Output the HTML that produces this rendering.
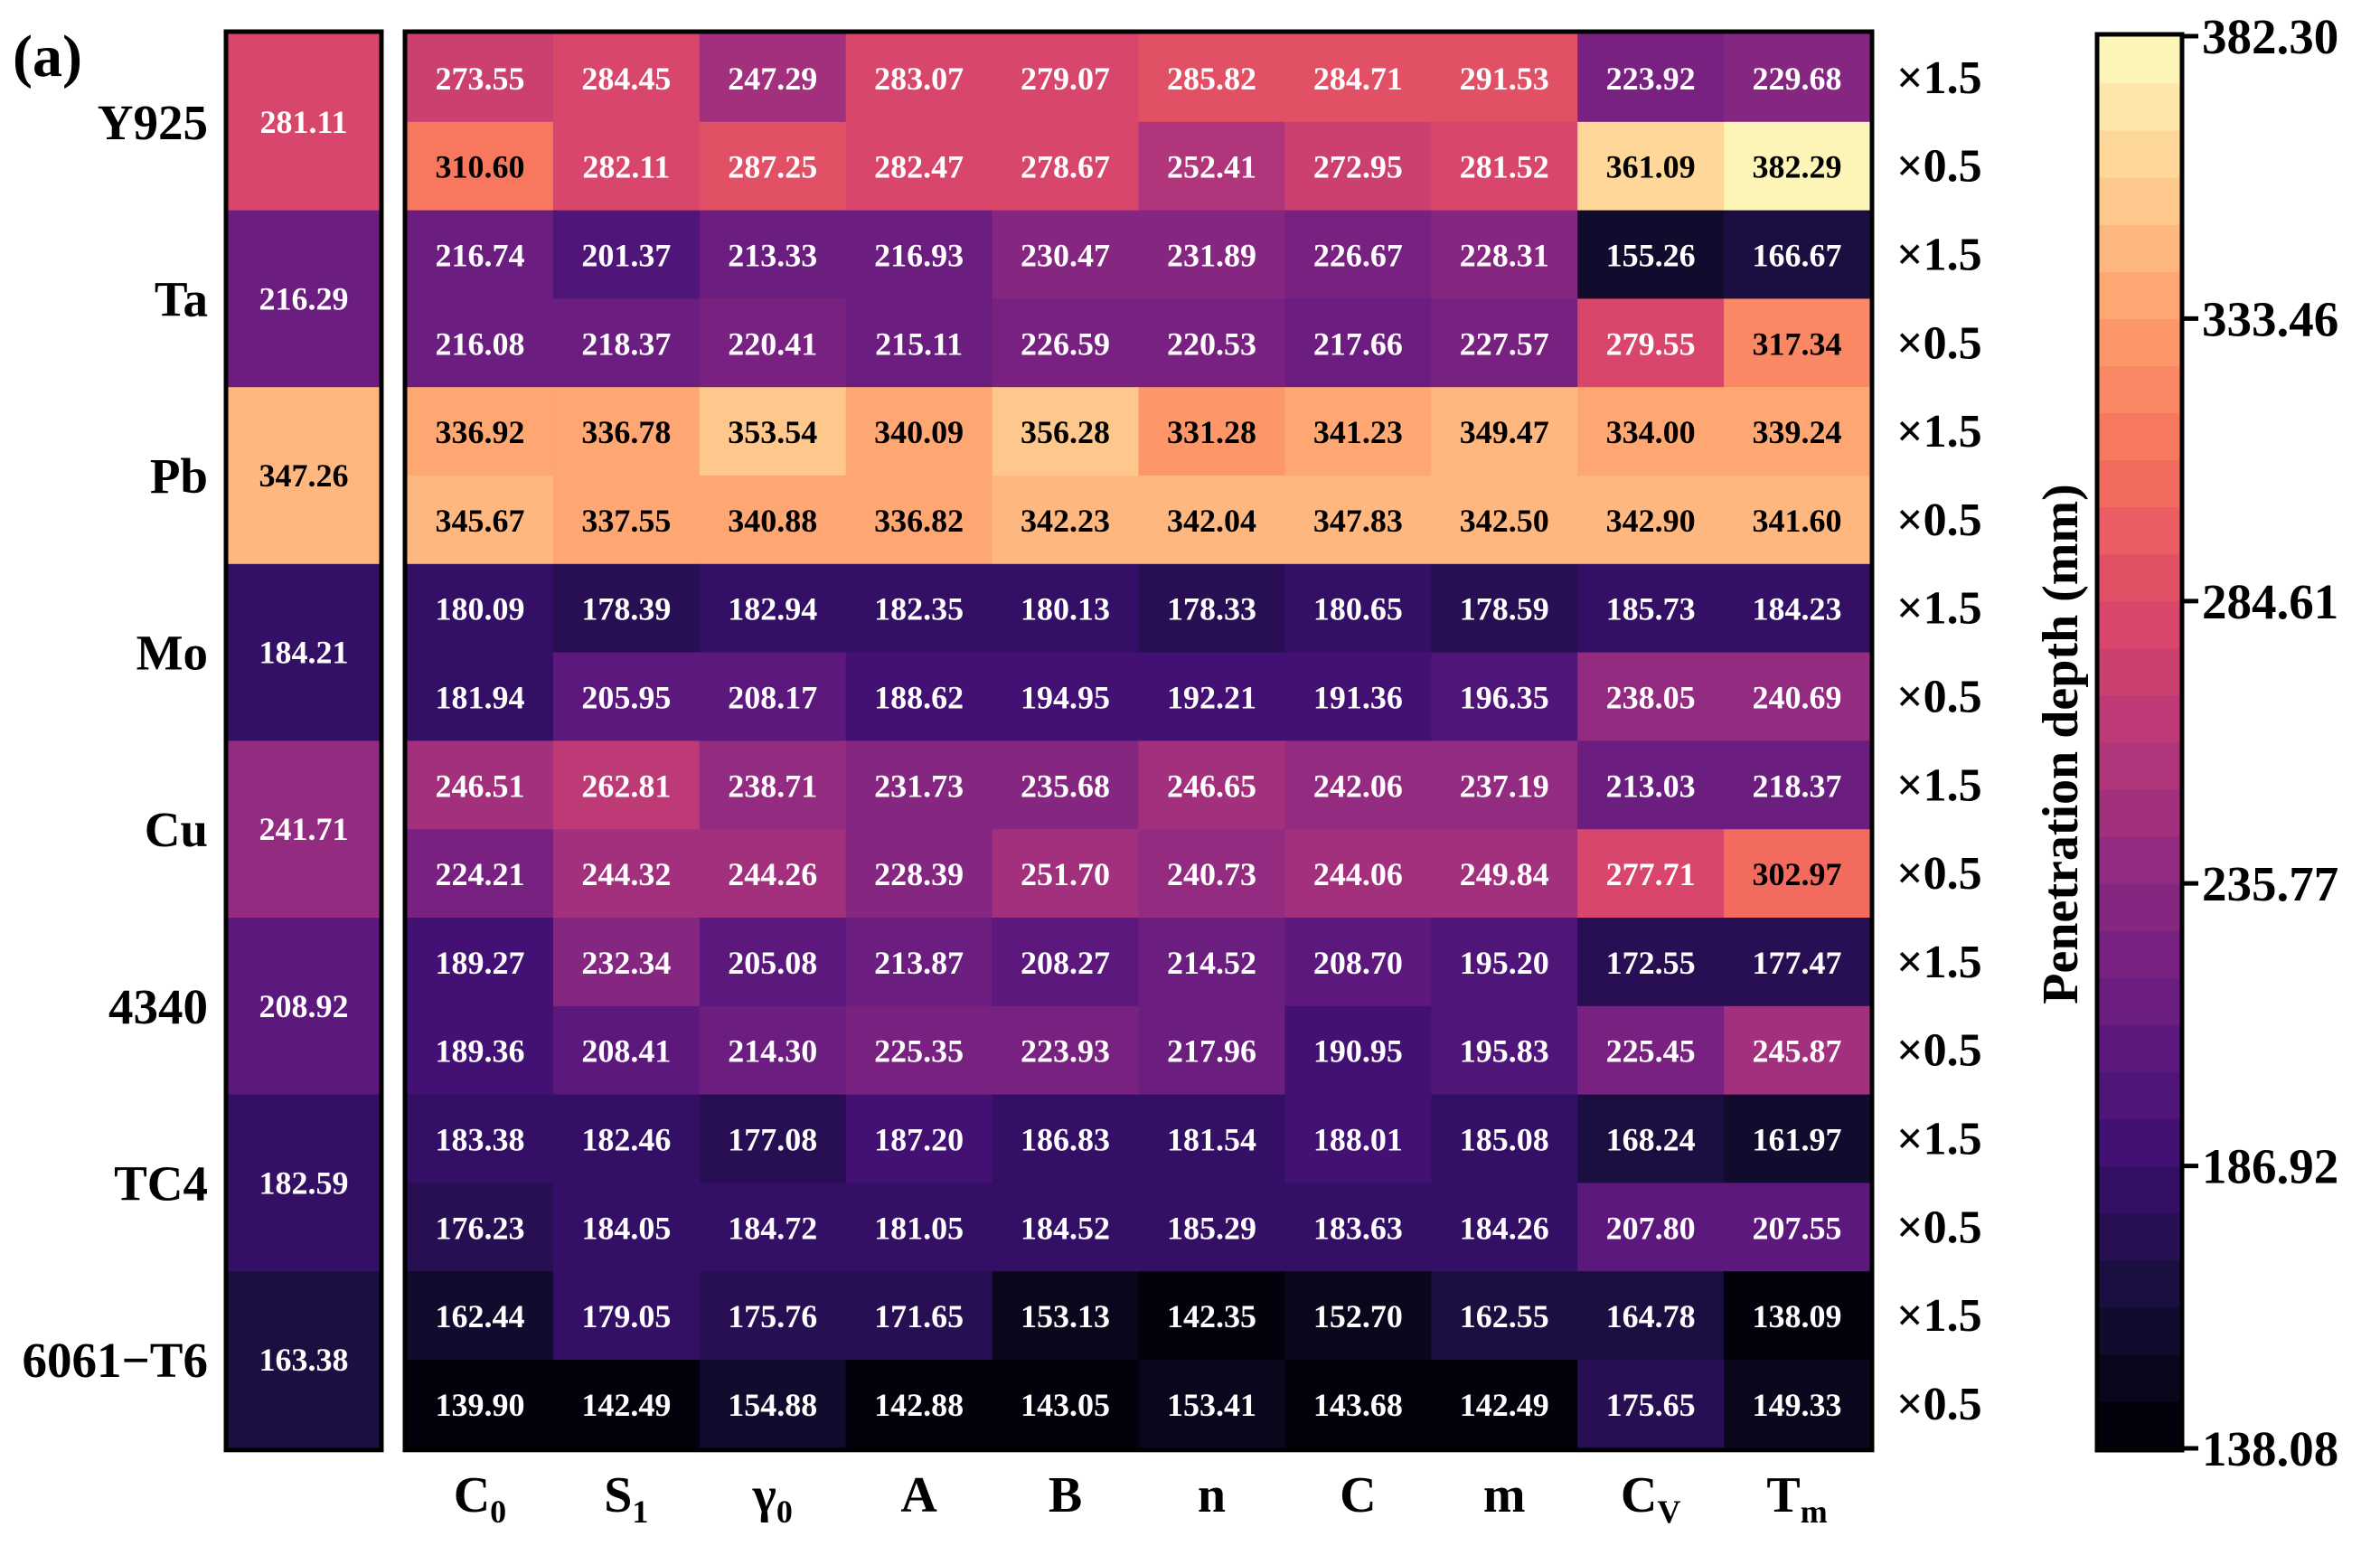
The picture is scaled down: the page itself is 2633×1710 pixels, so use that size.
<!DOCTYPE html>
<html><head><meta charset="utf-8">
<style>
html,body{margin:0;padding:0;background:#fff;}
svg{display:block;font-family:"Liberation Serif",serif;}
</style></head>
<body>
<svg id="chart" width="2633" height="1710" viewBox="0 0 2633 1710" xmlns="http://www.w3.org/2000/svg"></svg>
<script>
const materials = ["Y925","Ta","Pb","Mo","Cu","4340","TC4","6061\u2212T6"];
const baseValues = [281.11,216.29,347.26,184.21,241.71,208.92,182.59,163.38];
const colLabels = [["C","0"],["S","1"],["\u03B3","0"],["A",""],["B",""],["n",""],["C",""],["m",""],["C","V"],["T","m"]];
const rowFactors = ["\u00D71.5","\u00D70.5"];
const values = [
[273.55,284.45,247.29,283.07,279.07,285.82,284.71,291.53,223.92,229.68],
[310.60,282.11,287.25,282.47,278.67,252.41,272.95,281.52,361.09,382.29],
[216.74,201.37,213.33,216.93,230.47,231.89,226.67,228.31,155.26,166.67],
[216.08,218.37,220.41,215.11,226.59,220.53,217.66,227.57,279.55,317.34],
[336.92,336.78,353.54,340.09,356.28,331.28,341.23,349.47,334.00,339.24],
[345.67,337.55,340.88,336.82,342.23,342.04,347.83,342.50,342.90,341.60],
[180.09,178.39,182.94,182.35,180.13,178.33,180.65,178.59,185.73,184.23],
[181.94,205.95,208.17,188.62,194.95,192.21,191.36,196.35,238.05,240.69],
[246.51,262.81,238.71,231.73,235.68,246.65,242.06,237.19,213.03,218.37],
[224.21,244.32,244.26,228.39,251.70,240.73,244.06,249.84,277.71,302.97],
[189.27,232.34,205.08,213.87,208.27,214.52,208.70,195.20,172.55,177.47],
[189.36,208.41,214.30,225.35,223.93,217.96,190.95,195.83,225.45,245.87],
[183.38,182.46,177.08,187.20,186.83,181.54,188.01,185.08,168.24,161.97],
[176.23,184.05,184.72,181.05,184.52,185.29,183.63,184.26,207.80,207.55],
[162.44,179.05,175.76,171.65,153.13,142.35,152.70,162.55,164.78,138.09],
[139.90,142.49,154.88,142.88,143.05,153.41,143.68,142.49,175.65,149.33]
];
const cbTicks = [382.30,333.46,284.61,235.77,186.92,138.08];
const vmin = 138.08, vmax = 382.30, nBands = 30;

const svgEl = document.getElementById('chart');
const NS = "http://www.w3.org/2000/svg";
function mk(tag, attrs, parent){const e=document.createElementNS(NS,tag);for(const k in attrs)e.setAttribute(k,attrs[k]);(parent||svgEl).appendChild(e);return e;}

const stops=[[0,[0,0,4]],[0.1,[20,14,54]],[0.2,[59,15,112]],[0.3,[100,26,128]],[0.4,[140,41,129]],[0.5,[183,55,121]],[0.6,[222,73,104]],[0.7,[247,112,92]],[0.8,[254,159,109]],[0.9,[254,207,146]],[1,[252,253,191]]];
function magma(t){t=Math.max(0,Math.min(1,t));for(let i=1;i<stops.length;i++){if(t<=stops[i][0]){const p=stops[i-1],q=stops[i];const f=(t-p[0])/(q[0]-p[0]);const c=p[1].map((v,j)=>Math.round(v+(q[1][j]-v)*f));return `rgb(${c[0]},${c[1]},${c[2]})`;}}return 'rgb(252,253,191)';}
function color(v){let t=(v-vmin)/(vmax-vmin);let k=Math.min(nBands-1,Math.floor(t*nBands));return magma((k+0.5)/nBands);}
function textColor(v){return v>295?'#000':'#fff';}

const topY=37, rowH=97.8, nRows=values.length;
const mainX=450, colW=161.9;
const leftX=252, leftW=168;
const yRow=i=>topY+i*rowH;
const xCol=j=>mainX+j*colW;

baseValues.forEach((v,i)=>{
  const r=mk('rect',{x:leftX,y:yRow(2*i),width:leftW,height:2*rowH+0.5,fill:color(v)});
  
  
  const t=mk('text',{x:leftX+leftW/2,y:yRow(2*i)+rowH+12,'text-anchor':'middle','font-size':36,'font-weight':'bold',fill:textColor(v)});
  t.textContent=v.toFixed(2);
  
  
  const l=mk('text',{x:230,y:yRow(2*i)+rowH+19,'text-anchor':'end','font-size':55,'font-weight':'bold',fill:'#000'});
  l.textContent=materials[i];
  
  
});
mk('rect',{x:leftX-2,y:topY-2,width:leftW+4,height:nRows*rowH+4,fill:'none',stroke:'#000','stroke-width':5,});

values.forEach((row,i)=>{
  row.forEach((v,j)=>{
    const r=mk('rect',{x:xCol(j),y:yRow(i),width:colW+0.5,height:rowH+0.5,fill:color(v)});
    
    
    const t=mk('text',{x:xCol(j)+colW/2,y:yRow(i)+rowH/2+13,'text-anchor':'middle','font-size':36,'font-weight':'bold',fill:textColor(v)});
    t.textContent=v.toFixed(2);
    
    
  });
  const f=mk('text',{x:2098,y:yRow(i)+rowH/2+17,'font-size':52,'font-weight':'bold',fill:'#000'});
  f.textContent=rowFactors[i%2];
  
  
});
mk('rect',{x:mainX-2,y:topY-2,width:colLabels.length*colW+4,height:nRows*rowH+4,fill:'none',stroke:'#000','stroke-width':5,});

colLabels.forEach((c,j)=>{
  const t=mk('text',{x:xCol(j)+colW/2,y:1672,'text-anchor':'middle','font-size':56,'font-weight':'bold',fill:'#000'});
  
  
  t.appendChild(document.createTextNode(c[0]));
  if(c[1]){const s=mk('tspan',{'font-size':36,dy:12},t);s.textContent=c[1];}
});

const panelLabel=mk('text',{x:14,y:84,'font-size':66,'font-weight':'bold',fill:'#000',});
panelLabel.textContent='(a)';

const cbX=2322, cbW=90, cbTop=40, cbBot=1602;
const cbY=v=>cbBot-(v-vmin)/(vmax-vmin)*(cbBot-cbTop);
for(let k=0;k<nBands;k++){
  const v0=vmin+k*(vmax-vmin)/nBands, v1=vmin+(k+1)*(vmax-vmin)/nBands;
  const r=mk('rect',{x:cbX,y:cbY(v1),width:cbW,height:cbY(v0)-cbY(v1)+0.5,fill:magma((k+0.5)/nBands)});
  
  
}
mk('rect',{x:cbX-2,y:cbTop-2,width:cbW+4,height:cbBot-cbTop+4,fill:'none',stroke:'#000','stroke-width':5,});
cbTicks.forEach(v=>{
  const y=cbY(v);
  const l=mk('line',{x1:cbX+cbW,x2:cbX+cbW+20,y1:y,y2:y,stroke:'#000','stroke-width':5});
  
  
  const t=mk('text',{x:2436,y:y+19,'font-size':55,'font-weight':'bold',fill:'#000'});
  t.textContent=v.toFixed(2);
  
  
});
const cbTitle=mk('text',{x:0,y:0,'text-anchor':'middle','font-size':56,'font-weight':'bold',fill:'#000',transform:'translate(2298,823) rotate(-90)',});
cbTitle.textContent='Penetration depth (mm)';
</script>
</body></html>
